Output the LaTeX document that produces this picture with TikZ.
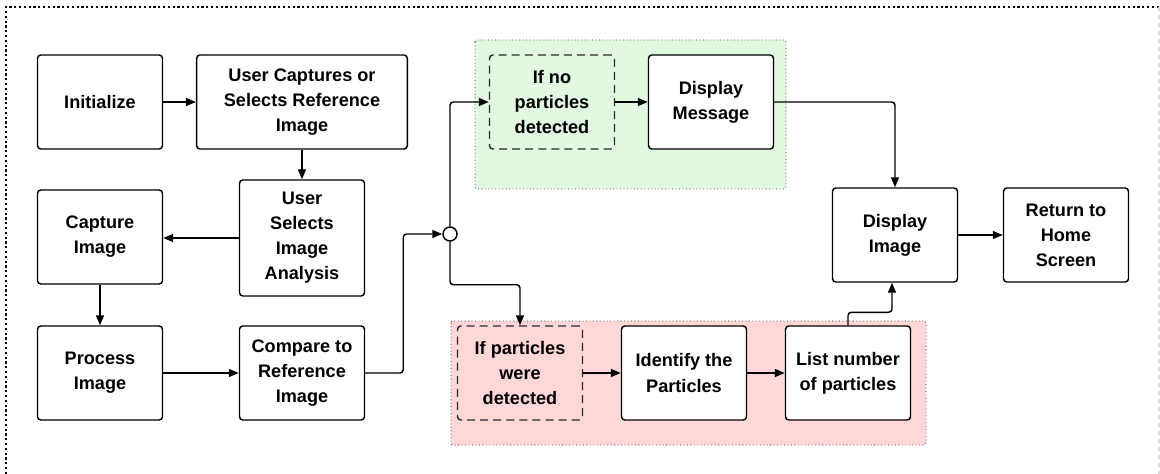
\documentclass[tikz,border=0pt]{standalone}
\usepackage{fontspec}
\setmainfont{Liberation Sans}
\usetikzlibrary{arrows.meta}

\definecolor{okgreen}{HTML}{E1F8E1}
\definecolor{badred}{HTML}{FFD7D7}
\definecolor{edgegray}{HTML}{2A2A2A}

\tikzset{
	box/.style = {draw, line width=1.1pt, rounded corners=2.5pt, fill=white, align=center,
		minimum width=93.75pt, minimum height=70.5pt, inner sep=2pt,
		font=\fontsize{13.6}{18.8}\selectfont\bfseries},
	testbox/.style = {box, fill=none, draw=edgegray, dash pattern=on 6pt off 3.8pt},
	flow/.style = {line width=1.1pt, rounded corners=2.5pt, -{Triangle[length=7.5pt, width=6pt]}},
	group/.style = {draw=edgegray, dotted, line width=0.6pt, rounded corners=1.5pt},
}

\begin{document}
\begin{tikzpicture}[x=0.75pt, y=-0.75pt]
		\useasboundingbox (0,0) rectangle (1160,474);
		
		% frame
		\draw[dotted, line width=1.6pt] (6,474) -- (6,7) -- (1160,7);
		\draw[black!15, dashed, line width=0.8pt] (1159,7) -- (1159,474);
		
		% outcome groups
		\filldraw[group, fill=okgreen] (475,40) rectangle (786,189);
		\filldraw[group, fill=badred] (451,321) rectangle (926,445);
		
		% left part
		\node[box] (init) at (100,102) {Initialize};
		\node[box, minimum width=158pt] (usercap) at (302,102) {User Captures or\\Selects Reference\\Image};
		\node[box, minimum height=87pt] (usersel) at (302,238) {User\\Selects\\Image\\Analysis};
		\node[box] (capture) at (100,237) {Capture\\Image};
		\node[box] (process) at (100,373) {Process\\Image};
		\node[box] (compare) at (302,373) {Compare to\\Reference\\Image};
		
		\node[circle, draw, fill=white, line width=1.1pt, minimum size=10.5pt, inner sep=0pt] (junc) at (450,234) {};
		
		% branches
		\node[testbox] (ifno) at (552,102) {If no\\particles\\detected};
		\node[box] (dispmsg) at (711,102) {Display\\Message};
		\node[testbox] (ifyes) at (520,373) {If particles\\were\\detected};
		\node[box] (ident) at (684,373) {Identify the\\Particles};
		\node[box] (listnum) at (848,373) {List number\\of particles};
		
		% right part
		\node[box] (dispimg) at (895,235) {Display\\Image};
		\node[box] (home) at (1066,235) {Return to\\Home\\Screen};
		
		\begin{scope}[flow]
		\draw (init) -- (usercap);
		\draw (usercap) -- (usersel);
		\draw (usersel.west) -- (usersel.west -| capture.east);
		\draw (capture) -- (process);
		\draw (process) -- (compare);
		\draw (compare.east) -- ++(38,0) |- (junc.west);
		\draw (junc.north) |- (ifno.west);
		\draw (junc.south) -- ++(0,43) -| (ifyes.north);
		\draw (ifno) -- (dispmsg);
		\draw (dispmsg.east) -| (dispimg.north);
		\draw (ifyes) -- (ident);
		\draw (ident) -- (listnum);
		\draw (listnum.north) -- ++(0,-13) -| ([xshift=-2.25pt]dispimg.south);
		\draw (dispimg) -- (home);
		\end{scope}
\end{tikzpicture}
\end{document}
